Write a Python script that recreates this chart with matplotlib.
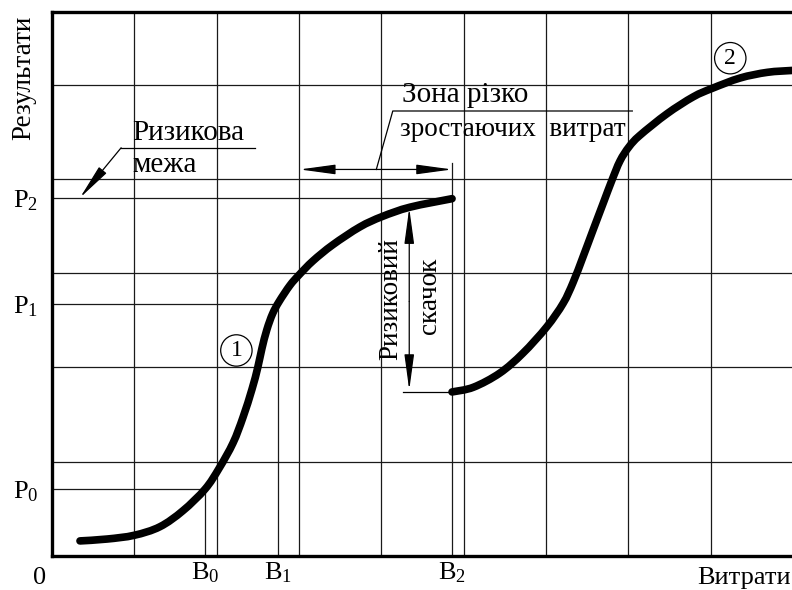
import matplotlib
matplotlib.use("Agg")
import matplotlib.pyplot as plt
from matplotlib.path import Path
from matplotlib.patches import PathPatch

plt.rcParams["font.family"] = ["Liberation Serif", "DejaVu Serif"]
plt.rcParams["mathtext.fontset"] = "custom"
plt.rcParams["mathtext.rm"] = "Liberation Serif"
plt.rcParams["mathtext.it"] = "Liberation Serif"

# Result levels and cost levels (grid units)
p_levels = [0.71, 2.67, 3.80]
p_labels = [r"$\mathrm{P}_0$", r"$\mathrm{P}_1$", r"$\mathrm{P}_2$"]
b_levels = [1.86, 2.75, 4.86]
b_labels = [r"$\mathrm{В}_0$", r"$\mathrm{В}_1$", r"$\mathrm{В}_2$"]

# Curve 1: results vs costs up to the risk jump
curve1_x = [0.34, 0.67, 1.00, 1.31, 1.59, 1.86, 2.03, 2.20, 2.32, 2.43, 2.50,
            2.55, 2.61, 2.68, 2.76, 2.89, 3.00, 3.17, 3.41, 3.74, 4.01, 4.35,
            4.86]
curve1_y = [0.16, 0.18, 0.22, 0.31, 0.48, 0.71, 0.93, 1.20, 1.47, 1.77, 2.00,
            2.20, 2.40, 2.57, 2.70, 2.87, 2.98, 3.13, 3.30, 3.49, 3.60, 3.70,
            3.79]

# Curve 2: results after the jump
curve2_x = [4.86, 5.12, 5.44, 5.72, 6.01, 6.21, 6.33, 6.45, 6.57, 6.70, 6.80,
            6.90, 7.01, 7.14, 7.47, 7.79, 8.02, 8.36, 8.69, 8.99]
curve2_y = [1.74, 1.79, 1.94, 2.15, 2.43, 2.68, 2.90, 3.17, 3.45, 3.75, 3.98,
            4.19, 4.34, 4.46, 4.69, 4.87, 4.96, 5.07, 5.13, 5.15]


def smooth_path(xs, ys):
    """Bezier path passing through every point (Catmull-Rom tangents)."""
    pts = list(zip(xs, ys))
    n = len(pts)
    verts = [pts[0]]
    codes = [Path.MOVETO]
    for i in range(n - 1):
        p0 = pts[i - 1] if i > 0 else pts[i]
        p1 = pts[i]
        p2 = pts[i + 1]
        p3 = pts[i + 2] if i + 2 < n else pts[i + 1]
        c1 = (p1[0] + (p2[0] - p0[0]) / 6, p1[1] + (p2[1] - p0[1]) / 6)
        c2 = (p2[0] - (p3[0] - p1[0]) / 6, p2[1] - (p3[1] - p1[1]) / 6)
        verts += [c1, c2, p2]
        codes += [Path.CURVE4] * 3
    return Path(verts, codes)


fig = plt.figure(figsize=(7.92, 5.90), dpi=100)
ax = fig.add_axes([52 / 792, 34 / 590, 740 / 792, 544 / 590])
ax.set_xlim(0, 8.99)
ax.set_ylim(0, 5.77)

line_c = "#1a1a1a"

# grid
for gx in range(1, 9):
    ax.axvline(gx, color=line_c, lw=0.9, zorder=1)
for gy in range(1, 6):
    ax.axhline(gy, color=line_c, lw=0.9, zorder=1)

for s in ["left", "bottom", "top"]:
    ax.spines[s].set_linewidth(2.4)
ax.spines["right"].set_visible(False)

# reference lines for P and B levels
ax.plot([0, b_levels[0]], [p_levels[0]] * 2, color=line_c, lw=0.9)
ax.plot([b_levels[0]] * 2, [0, p_levels[0]], color=line_c, lw=0.9)
ax.plot([0, b_levels[1]], [p_levels[1]] * 2, color=line_c, lw=0.9)
ax.plot([b_levels[1]] * 2, [0, p_levels[1]], color=line_c, lw=0.9)
ax.plot([0, b_levels[2]], [p_levels[2]] * 2, color=line_c, lw=0.9)
ax.plot([b_levels[2]] * 2, [0, 4.17], color=line_c, lw=0.9)

# curves
for cx, cy, clip in [(curve1_x, curve1_y, True), (curve2_x, curve2_y, False)]:
    patch = PathPatch(smooth_path(cx, cy), fill=False, ec="black", lw=5.5,
                      capstyle="round", joinstyle="round", zorder=5)
    patch.set_clip_on(clip)
    ax.add_patch(patch)

# ticks
ax.set_yticks(p_levels)
ax.set_yticklabels(p_labels, fontsize=19)
ax.set_xticks(b_levels)
ax.set_xticklabels(b_labels, fontsize=19)
ax.tick_params(axis="x", length=0, pad=3)
ax.tick_params(axis="y", length=0, pad=10)

ax.text(-0.15, -0.23, "0", fontsize=19, ha="center", va="center", clip_on=False)
ax.text(8.98, -0.23, "Витрати", fontsize=19, ha="right", va="center", clip_on=False)
ax.text(-0.34, 5.07, "Результати", fontsize=19.5, ha="center", va="center",
        rotation=90, clip_on=False)

head = dict(arrowstyle="-|>,head_length=2.2,head_width=0.3", color="black",
            lw=0.9, shrinkA=0, shrinkB=0)

# risk boundary callout
ax.plot([0.84, 2.47], [4.33, 4.33], color="black", lw=0.9)
ax.annotate("", xy=(0.34, 3.80), xytext=(0.84, 4.33), arrowprops=head)
ax.text(0.98, 4.49, "Ризикова", fontsize=21, ha="left", va="center")
ax.text(0.98, 4.15, "межа", fontsize=21, ha="left", va="center")

# zone of sharply rising costs
ax.annotate("", xy=(3.01, 4.10), xytext=(3.94, 4.10), arrowprops=head)
ax.annotate("", xy=(4.86, 4.10), xytext=(3.94, 4.10), arrowprops=head)
ax.plot([3.94, 4.14, 7.05], [4.10, 4.72, 4.72], color="black", lw=0.9)
ax.text(4.25, 4.89, "Зона різко", fontsize=21, ha="left", va="center")
ax.text(4.23, 4.52, "зростаючих  витрат", fontsize=19.5, ha="left", va="center")

# risk jump
ax.annotate("", xy=(4.34, 3.69), xytext=(4.34, 2.7), arrowprops=head)
ax.annotate("", xy=(4.34, 1.76), xytext=(4.34, 2.7), arrowprops=head)
ax.plot([4.26, 4.86], [1.74, 1.74], color="black", lw=0.9)
ax.text(4.12, 2.73, "Ризиковий", fontsize=19.5, ha="center", va="center", rotation=90)
ax.text(4.59, 2.76, "скачок", fontsize=19.5, ha="center", va="center", rotation=90)

# curve numbers
circ = dict(boxstyle="circle,pad=0.22", fc="white", ec="black", lw=0.9)
ax.text(2.24, 2.18, "1", fontsize=17, ha="center", va="center", bbox=circ, zorder=6)
ax.text(8.24, 5.28, "2", fontsize=17, ha="center", va="center", bbox=circ, zorder=6)

fig.savefig("out.png", dpi=100)
